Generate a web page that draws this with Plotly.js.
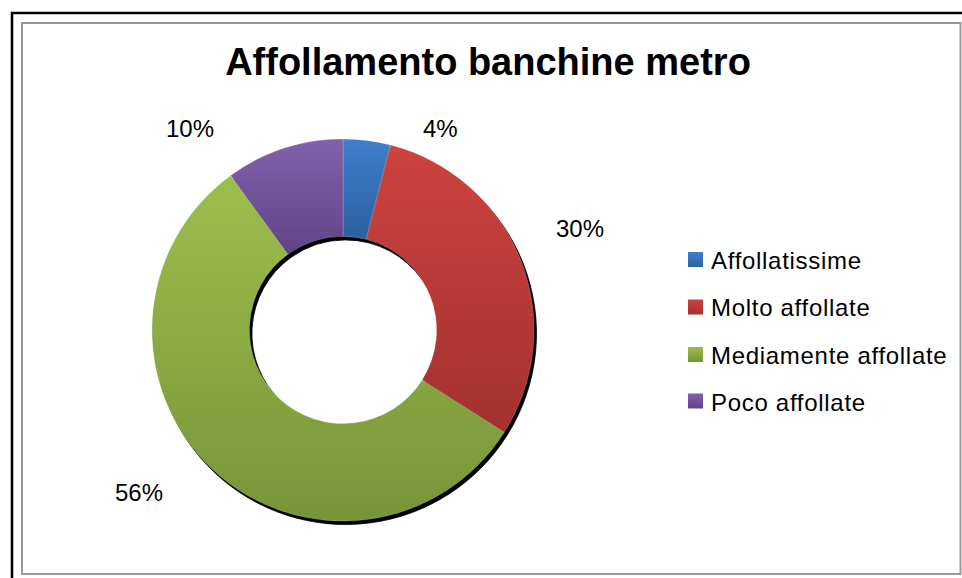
<!DOCTYPE html>
<html>
<head>
<meta charset="utf-8">
<script src="https://cdn.plot.ly/plotly-3.0.1.min.js"></script>
<style>html,body{margin:0;padding:0;background:#fff;}#chart{width:962px;height:578px;}</style>
</head>
<body>
<div id="chart"></div>
<script>
// ---- data ----
const categories = ['Affollatissime', 'Molto affollate', 'Mediamente affollate', 'Poco affollate'];
const values = [4, 30, 56, 10];
const chartTitle = 'Affollamento banchine metro';

// ---- styling ----
const colors = ['#3773BC', '#C33E3B', '#8BAC43', '#72529F'];
const gradTop = ['#3E7FCC', '#CD433F', '#9DBE4D', '#8161AC'];
const gradBot = ['#2E60A1', '#A3312E', '#779538', '#614487'];
const W = 962, H = 578;
const px = x => x / W;
const py = y => 1 - y / H;

const cx = 343, cy = 330, R = 191;
const dom = {x: [px(cx - R), px(cx + R)], y: [py(cy + R), py(cy - R)]};
const sdx = 2.5, sdy = 3.5;
const shadowDom = {x: [px(cx - R + sdx), px(cx + R + sdx)], y: [py(cy + R + sdy), py(cy - R + sdy)]};

const total = values.reduce((a, b) => a + b, 0);
const pctText = values.map(v => Math.round(v / total * 100) + '%');

const shadow = {
  type: 'pie', values: values, labels: categories, sort: false, direction: 'clockwise',
  rotation: 0, hole: 0.49, domain: shadowDom, textinfo: 'none', hoverinfo: 'skip',
  showlegend: false, marker: {colors: values.map(() => '#000'), line: {width: 0.8, color: '#000'}}
};
const main = {
  type: 'pie', values: values, labels: categories, sort: false, direction: 'clockwise',
  rotation: 0, hole: 0.49, domain: dom, textinfo: 'none', hoverinfo: 'label+percent',
  showlegend: false, marker: {colors: colors, line: {width: 0.6, color: 'rgba(255,255,255,0.35)'}}
};

// label positions (pixel centres), one per category
const labelPos = [[440, 128], [580, 229], [139, 492], [190, 128]];
const legendY = [259.5, 307, 354.5, 401];

const annotations = [];
const shapes = [];
values.forEach((v, i) => {
  annotations.push({
    xref: 'paper', yref: 'paper', x: px(labelPos[i][0]), y: py(labelPos[i][1]),
    xanchor: 'center', yanchor: 'middle', showarrow: false, text: pctText[i],
    font: {family: 'Liberation Sans, Arial, sans-serif', size: 24, color: '#000'}
  });
  annotations.push({
    xref: 'paper', yref: 'paper', x: px(709), y: py(legendY[i] + 1),
    xanchor: 'left', yanchor: 'middle', showarrow: false, text: categories[i],
    font: {family: 'Liberation Sans, Arial, sans-serif', size: 24, color: '#000'}
  });
  shapes.push({
    type: 'rect', xref: 'paper', yref: 'paper',
    x0: px(688), x1: px(703), y0: py(legendY[i] + 7.5), y1: py(legendY[i] - 7.5),
    fillcolor: colors[i], line: {width: 0}
  });
});

// frames
shapes.push({type: 'rect', xref: 'paper', yref: 'paper', x0: px(12), x1: 1.02, y0: -0.02, y1: py(13),
  line: {color: '#000', width: 2.5}, fillcolor: 'rgba(0,0,0,0)'});
shapes.push({type: 'rect', xref: 'paper', yref: 'paper', x0: px(22), x1: px(960.5), y0: py(574), y1: py(23),
  line: {color: '#9a9a9a', width: 2}, fillcolor: 'rgba(0,0,0,0)'});

const layout = {
  width: W, height: H,
  margin: {l: 0, r: 0, t: 0, b: 0},
  paper_bgcolor: '#fff', plot_bgcolor: '#fff',
  showlegend: false,
  title: {
    text: '<b>' + chartTitle + '</b>', x: px(488), xanchor: 'center',
    y: 1 - 62 / H, yanchor: 'middle', yref: 'container',
    font: {family: 'Liberation Sans, Arial, sans-serif', size: 38, color: '#000'}
  },
  annotations: annotations,
  shapes: shapes
};

Plotly.newPlot('chart', [shadow, main], layout, {displayModeBar: false, staticPlot: true}).then(gd => {
  const svg = gd.querySelector('svg.main-svg');
  const ns = 'http://www.w3.org/2000/svg';
  let defs = svg.querySelector('defs');
  if (!defs) { defs = document.createElementNS(ns, 'defs'); svg.insertBefore(defs, svg.firstChild); }
  colors.forEach((c, i) => {
    const g = document.createElementNS(ns, 'linearGradient');
    g.setAttribute('id', 'sliceGrad' + i);
    g.setAttribute('x1', '0'); g.setAttribute('y1', '0');
    g.setAttribute('x2', '0'); g.setAttribute('y2', '1');
    const s1 = document.createElementNS(ns, 'stop');
    s1.setAttribute('offset', '0'); s1.setAttribute('stop-color', gradTop[i]);
    const s2 = document.createElementNS(ns, 'stop');
    s2.setAttribute('offset', '1'); s2.setAttribute('stop-color', gradBot[i]);
    g.appendChild(s1); g.appendChild(s2); defs.appendChild(g);
  });
  const traces = gd.querySelectorAll('.pielayer .trace');
  if (traces.length > 1) {
    const slices = traces[1].querySelectorAll('.slice path.surface');
    slices.forEach((p, i) => { p.style.fill = 'url(#sliceGrad' + (i % colors.length) + ')'; });
  }
  const shp = gd.querySelectorAll('.shapelayer path');
  shp.forEach((p, i) => { if (i < colors.length) p.style.fill = 'url(#sliceGrad' + i + ')'; });
  // slightly wider letter spacing for legend labels, keeping the left edge fixed
  gd.querySelectorAll('.annotation text').forEach(t => {
    if (categories.indexOf(t.textContent) >= 0) {
      const b0 = t.getBBox();
      t.style.letterSpacing = '0.7px';
      const b1 = t.getBBox();
      const x = parseFloat(t.getAttribute('x') || '0');
      t.setAttribute('x', x + (b0.x - b1.x));
    }
  });
});
</script>
</body>
</html>
